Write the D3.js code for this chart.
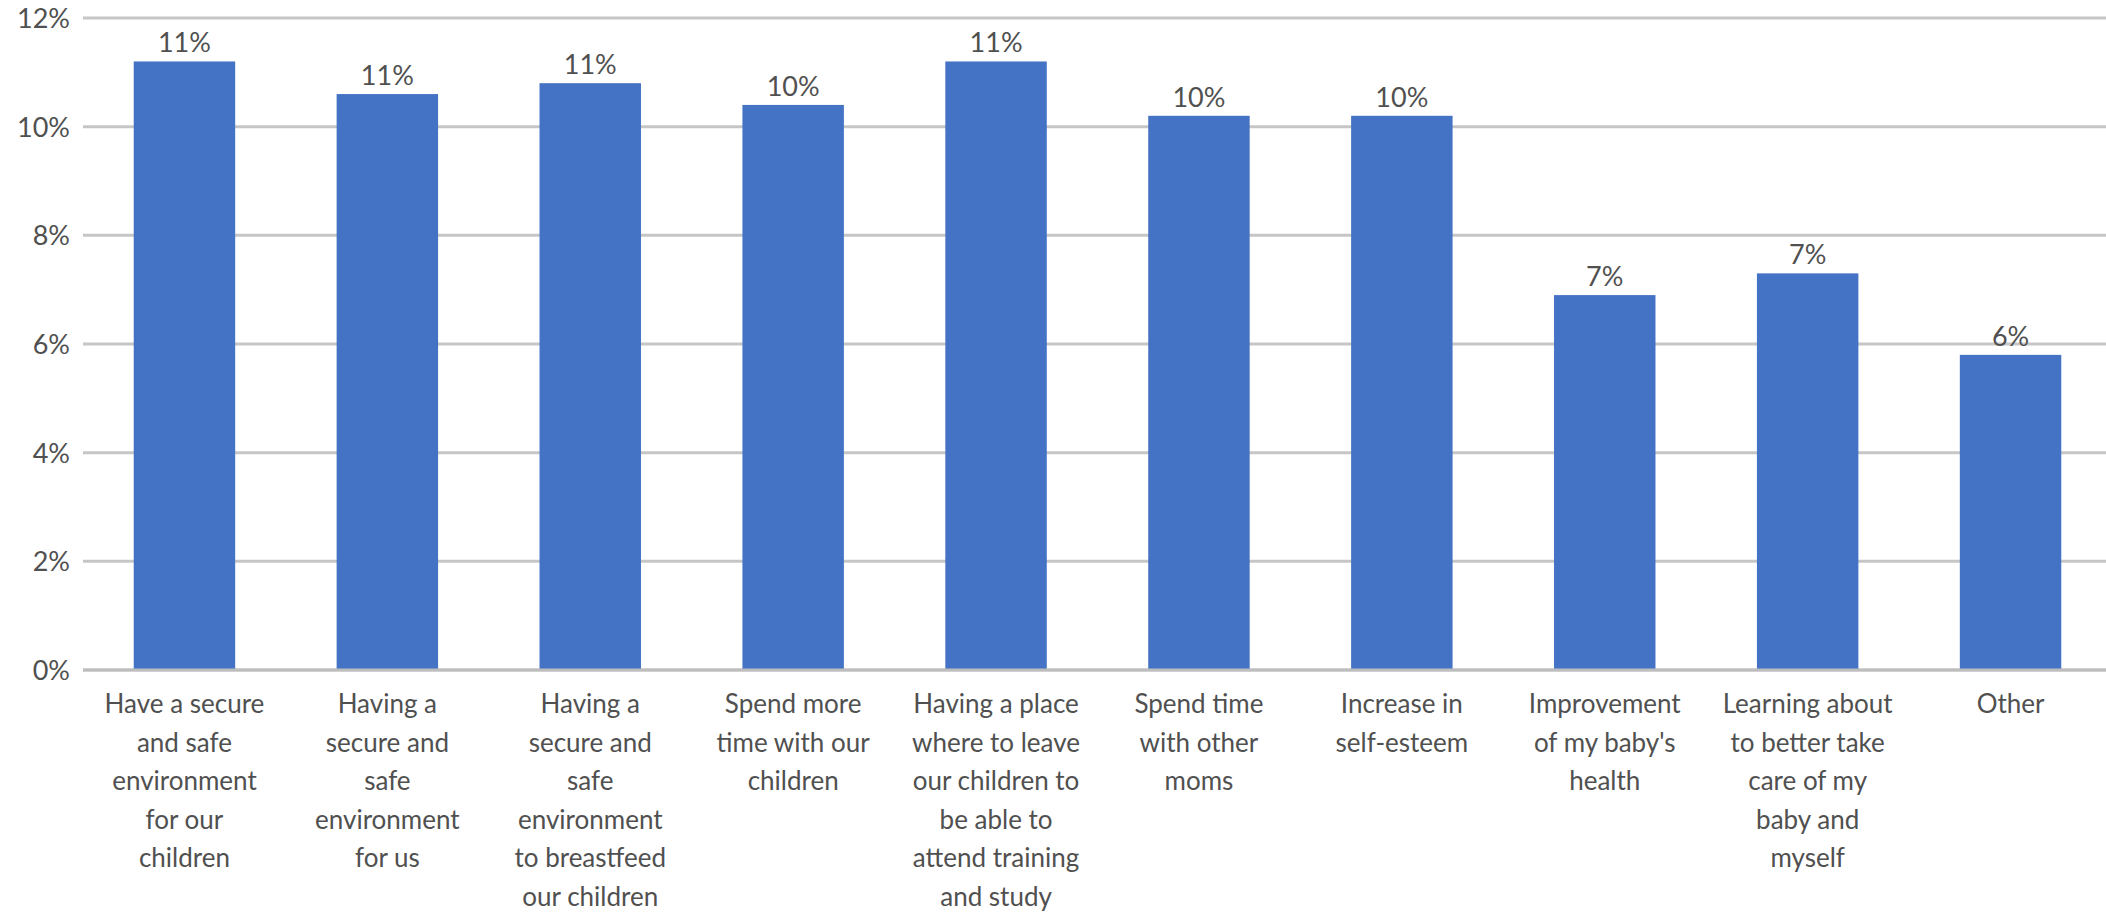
<!DOCTYPE html>
<html>
<head>
<meta charset="utf-8">
<script src="https://cdn.jsdelivr.net/npm/d3@7"></script>
<style>
  html, body { margin: 0; padding: 0; background: #ffffff; overflow: hidden; }
  svg { display: block; }
  text { font-family: Lato, "Open Sans", sans-serif; fill: #505050; }
</style>
</head>
<body>
<svg id="chart" width="2106" height="916"></svg>
<script>
// Reasons given for valuing the space (share of responses)
const categories = [
  ["Have a secure", "and safe", "environment", "for our", "children"],
  ["Having a", "secure and", "safe", "environment", "for us"],
  ["Having a", "secure and", "safe", "environment", "to breastfeed", "our children"],
  ["Spend more", "time with our", "children"],
  ["Having a place", "where to leave", "our children to", "be able to", "attend training", "and study"],
  ["Spend time", "with other", "moms"],
  ["Increase in", "self-esteem"],
  ["Improvement", "of my baby's", "health"],
  ["Learning about", "to better take", "care of my", "baby and", "myself"],
  ["Other"]
];
const values = [0.112, 0.106, 0.108, 0.104, 0.112, 0.102, 0.102, 0.069, 0.073, 0.058];
const yTicks = [0, 0.02, 0.04, 0.06, 0.08, 0.10, 0.12];

const svg = d3.select("#chart");
const margin = { left: 83, top: 18, bottom: 246 };
const height = 916;
const y0 = height - margin.bottom; // baseline

const keys = d3.range(categories.length);
const x = d3.scaleBand()
  .domain(keys)
  .range([margin.left, 2112])
  .paddingInner(0.5)
  .paddingOuter(0.25);

const y = d3.scaleLinear()
  .domain([0, 0.12])
  .range([y0, margin.top]);

const fmt = d3.format(".0%");

// horizontal gridlines
svg.append("g")
  .selectAll("line")
  .data(yTicks)
  .join("line")
  .attr("x1", margin.left)
  .attr("x2", 2106)
  .attr("y1", d => y(d))
  .attr("y2", d => y(d))
  .attr("stroke", "#c6c6c6")
  .attr("stroke-width", 3);

// y axis labels
const yAxis = d3.axisLeft(y).tickValues(yTicks).tickFormat(fmt).tickSize(0).tickPadding(13);
const gy = svg.append("g").attr("transform", `translate(${margin.left},0)`).call(yAxis);
gy.select(".domain").remove();
gy.selectAll("text")
  .style("font-size", "27px")
  .attr("fill", "#505050")
  .attr("dy", "0.35em");

// bars
svg.append("g")
  .selectAll("rect")
  .data(values)
  .join("rect")
  .attr("x", (d, i) => x(i))
  .attr("width", x.bandwidth())
  .attr("y", d => y(d))
  .attr("height", d => y(0) - y(d))
  .attr("fill", "#4472c4");

// value labels
svg.append("g")
  .selectAll("text")
  .data(values)
  .join("text")
  .attr("x", (d, i) => x(i) + x.bandwidth() / 2)
  .attr("y", d => y(d) - 9)
  .attr("text-anchor", "middle")
  .style("font-size", "27px")
  .text(d => fmt(d));

// baseline
svg.append("line")
  .attr("x1", margin.left)
  .attr("x2", 2106)
  .attr("y1", y(0))
  .attr("y2", y(0))
  .attr("stroke", "#bdbdbd")
  .attr("stroke-width", 3);

// category labels (x axis)
const xAxis = d3.axisBottom(x).tickSize(0).tickFormat(() => "");
const gx = svg.append("g").attr("transform", `translate(0,${y0})`).call(xAxis);
gx.select(".domain").remove();
gx.selectAll(".tick").each(function (i) {
  const t = d3.select(this).select("text")
    .attr("y", 0)
    .attr("dy", null)
    .attr("text-anchor", "middle")
    .style("font-size", "26px")
    .attr("fill", "#505050");
  t.selectAll("tspan")
    .data(categories[i])
    .join("tspan")
    .attr("x", 0)
    .attr("y", (d, k) => 43 + k * 38.6)
    .text(d => d);
});
</script>
</body>
</html>
